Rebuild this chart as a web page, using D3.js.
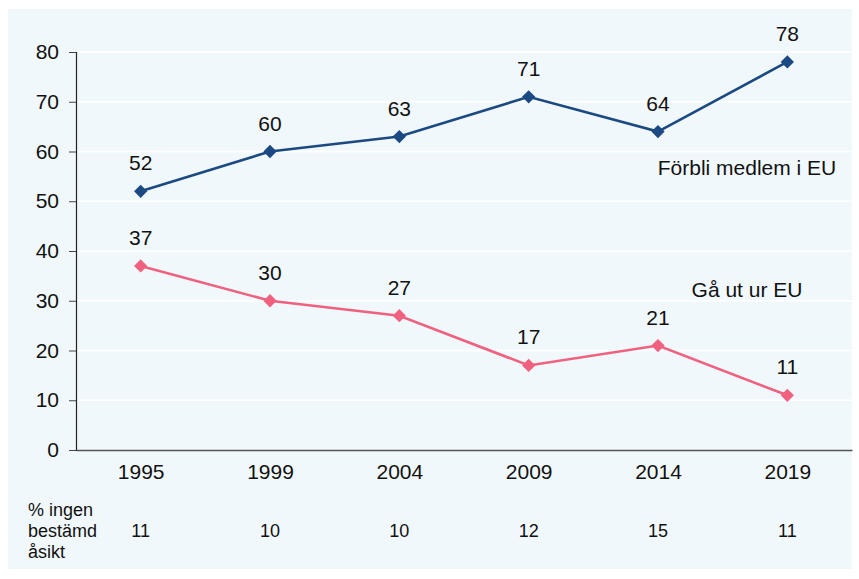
<!DOCTYPE html>
<html>
<head>
<meta charset="utf-8">
<script src="https://cdn.jsdelivr.net/npm/d3@7"></script>
<style>
  body { margin: 0; background: #fff; font-family: "Liberation Sans", Arial, sans-serif; }
  svg text { font-family: "Liberation Sans", Arial, sans-serif; }
</style>
</head>
<body>
<div id="chart"></div>
<script>
const years = ["1995", "1999", "2004", "2009", "2014", "2019"];
const stay = [52, 60, 63, 71, 64, 78];
const leave = [37, 30, 27, 17, 21, 11];
const undecided = [11, 10, 10, 12, 15, 11];
const yTicks = [0, 10, 20, 30, 40, 50, 60, 70, 80];

const W = 859, H = 579;
const margin = { top: 52, right: 7, bottom: 129, left: 76 };
const width = W - margin.left - margin.right;
const height = H - margin.top - margin.bottom;

const svg = d3.select("#chart").append("svg")
  .attr("width", W)
  .attr("height", H);

svg.append("rect")
  .attr("x", 8).attr("y", 9)
  .attr("width", 844).attr("height", 560)
  .attr("fill", "#f1f8fc");

const g = svg.append("g")
  .attr("transform", `translate(${margin.left},${margin.top})`);

const x = d3.scalePoint().domain(years).range([0, width]).padding(0.5);
const y = d3.scaleLinear().domain([0, 80]).range([height, 0]);

// gridlines
g.append("g")
  .selectAll("line")
  .data(yTicks.filter(d => d > 0))
  .enter().append("line")
  .attr("x1", 0).attr("x2", width)
  .attr("y1", d => y(d)).attr("y2", d => y(d))
  .attr("stroke", "#fff").attr("stroke-width", 1.5);

// y axis
const yAxis = g.append("g")
  .call(d3.axisLeft(y).tickValues(yTicks).tickSize(7).tickPadding(10));
yAxis.select(".domain").attr("stroke", "#222").attr("stroke-width", 1.2);
yAxis.selectAll(".tick line").attr("stroke", "#444");
yAxis.selectAll("text")
  .attr("font-size", "21px").attr("fill", "#111");

// x axis
const xAxis = g.append("g")
  .attr("transform", `translate(0,${height})`)
  .call(d3.axisBottom(x).tickSize(0).tickPadding(14));
xAxis.select(".domain").attr("stroke", "#555").attr("stroke-width", 1.5);
xAxis.selectAll("text")
  .attr("font-size", "21px").attr("fill", "#111");

function drawSeries(values, color) {
  const line = d3.line()
    .x((d, i) => x(years[i]))
    .y(d => y(d));
  g.append("path")
    .datum(values)
    .attr("d", line)
    .attr("fill", "none")
    .attr("stroke", color)
    .attr("stroke-width", 2.6);
  g.append("g")
    .selectAll("path")
    .data(values)
    .enter().append("path")
    .attr("d", d3.symbol().type(d3.symbolSquare).size(88))
    .attr("transform", (d, i) => `translate(${x(years[i])},${y(d)}) rotate(45)`)
    .attr("fill", color);
  g.append("g")
    .selectAll("text")
    .data(values)
    .enter().append("text")
    .attr("x", (d, i) => x(years[i]))
    .attr("y", d => y(d) - 21)
    .attr("text-anchor", "middle")
    .attr("font-size", "21px")
    .attr("fill", "#111")
    .text(d => d);
}

drawSeries(stay, "#1b4a82");
drawSeries(leave, "#f0617f");

g.append("text")
  .attr("x", 671).attr("y", y(56) + 4)
  .attr("text-anchor", "middle")
  .attr("font-size", "21px").attr("fill", "#111")
  .text("Förbli medlem i EU");

g.append("text")
  .attr("x", 671).attr("y", y(32) + 6)
  .attr("text-anchor", "middle")
  .attr("font-size", "21px").attr("fill", "#111")
  .text("Gå ut ur EU");

// undecided row
const note = svg.append("text")
  .attr("x", 28).attr("y", 516)
  .attr("font-size", "18px").attr("fill", "#111");
["% ingen", "bestämd", "åsikt"].forEach((t, i) => {
  note.append("tspan").attr("x", 28).attr("dy", i === 0 ? 0 : 21).text(t);
});

svg.append("g")
  .selectAll("text")
  .data(undecided)
  .enter().append("text")
  .attr("x", (d, i) => margin.left + x(years[i]))
  .attr("y", 537)
  .attr("text-anchor", "middle")
  .attr("font-size", "18px").attr("fill", "#111")
  .text(d => d);
</script>
</body>
</html>
